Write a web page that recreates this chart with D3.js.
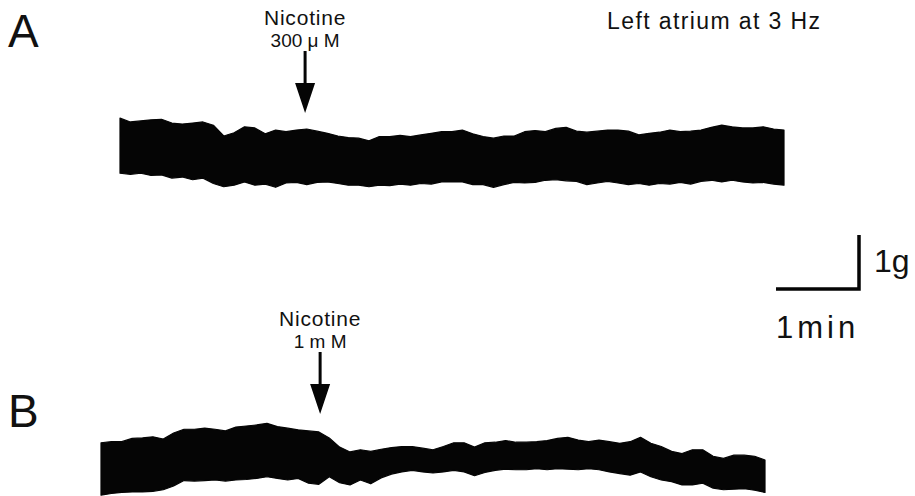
<!DOCTYPE html>
<html>
<head>
<meta charset="utf-8">
<script src="https://cdn.jsdelivr.net/npm/d3@7"></script>
<style>
  html, body { margin: 0; padding: 0; background: #fff; }
  svg { display: block; }
  text { font-family: "Liberation Sans", Arial, Helvetica, sans-serif; fill: #111; }
</style>
</head>
<body>
<div class="container"></div>
<script>
/* globals d3 */

// time grid, minutes (sampled every 7.5 s)
var timeMin = d3.range(65).map(function (k) { return k * 0.125 })

// developed tension envelope (g), trace A: nicotine 300 uM
var upperA = [1.33, 1.26, 1.28, 1.30, 1.31, 1.24, 1.22, 1.24, 1.26, 1.20,
  1.00, 1.06, 1.17, 1.15, 1.04, 1.11, 1.08, 1.11, 1.13, 1.09,
  1.05, 1.00, 0.97, 0.96, 0.91, 0.99, 0.99, 1.01, 0.99, 1.02,
  1.05, 1.08, 1.08, 1.11, 1.04, 0.99, 0.96, 1.00, 1.00, 1.08,
  1.10, 1.08, 1.14, 1.16, 1.09, 1.07, 1.09, 1.11, 1.11, 1.09,
  1.02, 1.05, 1.07, 1.11, 1.08, 1.09, 1.11, 1.16, 1.20, 1.17,
  1.15, 1.15, 1.17, 1.13, 1.11]
var lowerA = [0.31, 0.29, 0.31, 0.27, 0.28, 0.22, 0.24, 0.19, 0.22, 0.12,
  0.06, 0.09, 0.15, 0.09, 0.11, 0.05, 0.13, 0.14, 0.10, 0.14,
  0.15, 0.12, 0.09, 0.09, 0.06, 0.09, 0.08, 0.11, 0.09, 0.12,
  0.11, 0.15, 0.15, 0.15, 0.10, 0.10, 0.05, 0.10, 0.14, 0.13,
  0.14, 0.18, 0.19, 0.17, 0.16, 0.10, 0.13, 0.16, 0.13, 0.10,
  0.12, 0.09, 0.12, 0.11, 0.14, 0.11, 0.16, 0.18, 0.15, 0.18,
  0.15, 0.13, 0.14, 0.11, 0.09]

// trace B: nicotine 1 mM
var upperB = [1.06, 1.08, 1.08, 1.14, 1.15, 1.17, 1.13, 1.24, 1.31, 1.31,
  1.33, 1.31, 1.28, 1.35, 1.37, 1.39, 1.42, 1.36, 1.33, 1.30,
  1.28, 1.26, 1.15, 0.98, 0.89, 0.93, 0.90, 0.94, 0.97, 0.99,
  0.99, 0.96, 0.93, 0.99, 1.06, 1.06, 0.98, 1.06, 1.07, 1.10,
  1.07, 1.07, 1.08, 1.10, 1.14, 1.16, 1.11, 1.08, 1.11, 1.08,
  1.05, 1.08, 1.16, 1.05, 0.99, 0.90, 0.86, 0.93, 0.93, 0.81,
  0.77, 0.83, 0.83, 0.81, 0.74]
var lowerB = [0.09, 0.12, 0.14, 0.15, 0.15, 0.16, 0.19, 0.26, 0.36, 0.35,
  0.36, 0.37, 0.35, 0.37, 0.38, 0.40, 0.43, 0.40, 0.37, 0.40,
  0.31, 0.29, 0.43, 0.32, 0.28, 0.37, 0.30, 0.41, 0.48, 0.52,
  0.55, 0.52, 0.50, 0.52, 0.55, 0.52, 0.45, 0.51, 0.55, 0.57,
  0.56, 0.56, 0.58, 0.56, 0.58, 0.57, 0.56, 0.58, 0.56, 0.52,
  0.49, 0.46, 0.52, 0.43, 0.37, 0.34, 0.28, 0.28, 0.31, 0.22,
  0.19, 0.20, 0.21, 0.18, 0.14]

// drug application times (min) and labels
var doseTime = [2.23, 2.64]
var doseLabel = ['300 \u03bc M', '1 m M']

var width = 915
var height = 496
var pxPerMin = 83
var pxPerG = 54

var svg = d3.select('.container')
  .append('svg')
  .attr('width', width)
  .attr('height', height)

var panels = [
  { name: 'A', upper: upperA, lower: lowerA, left: 120, base: 190, dose: 0, nicY: 25, arrowTop: 51, tip: 113, letterY: 47 },
  { name: 'B', upper: upperB, lower: lowerB, left: 101, base: 500, dose: 1, nicY: 326, arrowTop: 352, tip: 414, letterY: 427 }
]

panels.forEach(function (p) {
  var x = d3.scaleLinear().domain([0, 8]).range([p.left, p.left + 8 * pxPerMin])
  var y = d3.scaleLinear().domain([0, 1]).range([p.base, p.base - pxPerG])

  var area = d3.area()
    .x(function (d, i) { return x(timeMin[i]) })
    .y0(function (d, i) { return y(p.lower[i]) })
    .y1(function (d) { return y(d) })

  svg.append('path')
    .attr('d', area(p.upper))
    .attr('fill', '#050505')
    .attr('stroke', '#050505')
    .attr('stroke-width', 1.2)
    .attr('stroke-linejoin', 'round')

  // panel letter
  svg.append('text')
    .attr('x', 8)
    .attr('y', p.letterY)
    .attr('font-size', 46)
    .text(p.name)

  // drug arrow
  var ax = x(doseTime[p.dose])
  svg.append('text')
    .attr('x', ax)
    .attr('y', p.nicY)
    .attr('text-anchor', 'middle')
    .attr('font-size', 21)
    .attr('letter-spacing', 0.8)
    .text('Nicotine')
  svg.append('text')
    .attr('x', ax)
    .attr('y', p.nicY + 22)
    .attr('text-anchor', 'middle')
    .attr('font-size', 19)
    .text(doseLabel[p.dose])
  svg.append('line')
    .attr('x1', ax).attr('x2', ax)
    .attr('y1', p.arrowTop).attr('y2', p.tip - 28)
    .attr('stroke', '#050505')
    .attr('stroke-width', 3)
  svg.append('path')
    .attr('d', 'M' + (ax - 10) + ',' + (p.tip - 30) + 'L' + (ax + 10) + ',' + (p.tip - 30) + 'L' + ax + ',' + p.tip + 'Z')
    .attr('fill', '#050505')
})

svg.append('text')
  .attr('x', 607)
  .attr('y', 29)
  .attr('font-size', 23)
  .attr('letter-spacing', 1.4)
  .text('Left atrium at 3 Hz')

// calibration bars: 1 g and 1 min
var barX = 859
var barY = 289
svg.append('path')
  .attr('d', 'M' + (barX - pxPerMin) + ',' + barY + 'H' + barX + 'V' + (barY - pxPerG))
  .attr('fill', 'none')
  .attr('stroke', '#050505')
  .attr('stroke-width', 3.5)

svg.append('text')
  .attr('x', 874)
  .attr('y', 272)
  .attr('font-size', 32)
  .text('1g')

svg.append('text')
  .attr('x', 776)
  .attr('y', 338)
  .attr('font-size', 31)
  .attr('letter-spacing', 4)
  .text('1min')
</script>
</body>
</html>
